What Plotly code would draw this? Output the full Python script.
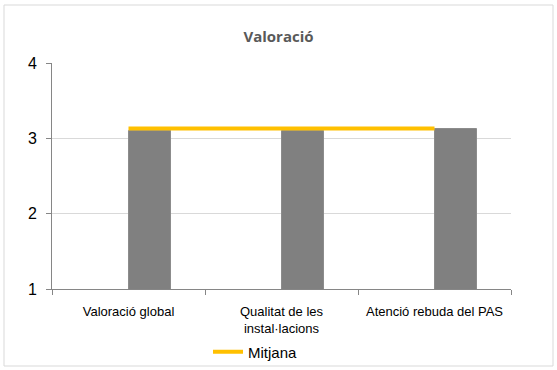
import plotly.graph_objects as go

categories = ["Valoració global", "Qualitat de les<br>instal·lacions", "Atenció rebuda del PAS"]
valors = [3.10, 3.10, 3.12]
mitjana = [3.13, 3.13, 3.13]
y_ticks = [1, 2, 3, 4]

x_pos = list(range(len(categories)))

fig = go.Figure()
fig.add_trace(go.Bar(
    x=x_pos, y=valors, width=0.28, offset=0,
    marker=dict(color="#808080", line=dict(color="#8c8c8c", width=1)),
    showlegend=False, name="Valoració", hoverinfo="y"))
fig.add_trace(go.Scatter(
    x=x_pos, y=mitjana, mode="lines", name="Mitjana",
    line=dict(color="#FFC000", width=4)))

W, H = 557, 370
L, R, T, B = 52, 46, 63, 81
pw, ph = W - L - R, H - T - B

def px(x):
    return (x - L) / pw

def py(y):
    return (H - B - y) / ph

fig.update_layout(
    width=W, height=H,
    margin=dict(l=L, r=R, t=T, b=B, autoexpand=False),
    paper_bgcolor="white", plot_bgcolor="white",
    font=dict(family="Liberation Sans, Arial, sans-serif", color="#000000"),
    title=dict(text="<b>Valoració</b>", x=0.5, xanchor="center", y=1 - 37 / H, yanchor="middle",
               font=dict(size=15, color="#595959", family="Open Sans, Liberation Sans, sans-serif")),
    xaxis=dict(range=[-0.5, 2.5], tickvals=x_pos, ticktext=categories, ticks="",
               showline=True, linecolor="#868686", linewidth=1, showgrid=False, zeroline=False,
               automargin=False,
               tickfont=dict(size=13, color="#000000"), ticklabelstandoff=10,
               minor=dict(tickvals=[-0.5, 0.5, 1.5, 2.5], ticks="outside", ticklen=5,
                          tickcolor="#868686", showgrid=False)),
    yaxis=dict(range=[1, 4], tickvals=y_ticks, ticks="outside", ticklen=5, tickcolor="#868686",
               showline=True, linecolor="#868686", linewidth=1, ticklabelstandoff=6,
               automargin=False,
               showgrid=True, gridcolor="#D9D9D9", gridwidth=1, zeroline=False,
               tickfont=dict(size=16, color="#000000")),
    legend=dict(orientation="h", x=px(208), xanchor="left", y=py(352), yanchor="middle",
                font=dict(size=15, color="#000000"), bgcolor="rgba(0,0,0,0)"),
    bargap=0,
    shapes=[dict(type="rect", xref="paper", yref="paper",
                 x0=px(4), x1=px(553), y0=py(366), y1=py(5),
                 line=dict(color="#D9D9D9", width=1), layer="below")],
)

fig.write_html("out.html", config={"displayModeBar": False},
               post_script="document.body.style.margin='0';document.documentElement.style.margin='0';document.body.style.overflow='hidden';")
